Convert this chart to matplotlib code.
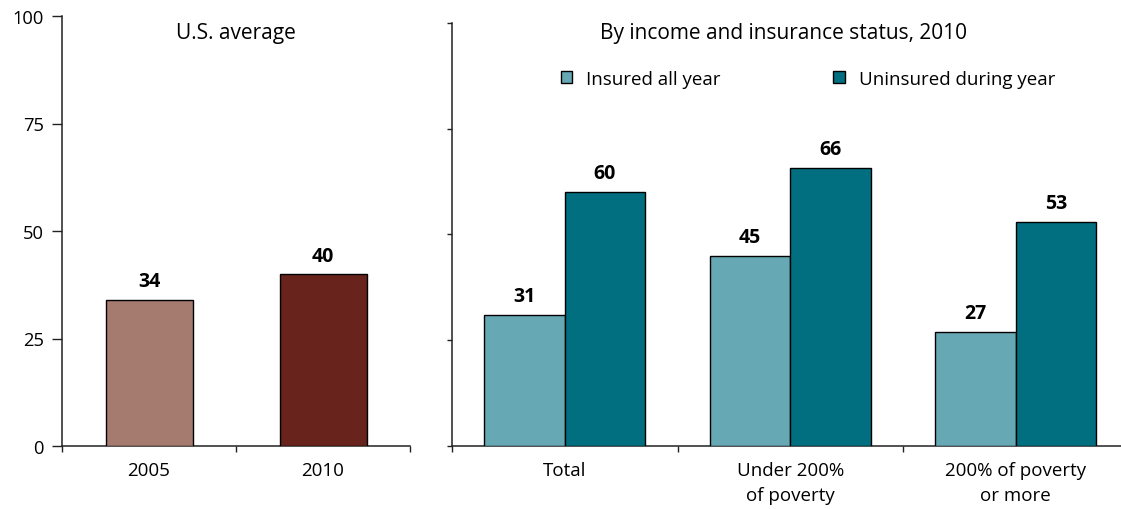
import matplotlib
matplotlib.use("Agg")
import matplotlib.pyplot as plt
from matplotlib.patches import Patch
import numpy as np

plt.rcParams['font.family'] = ['Open Sans', 'DejaVu Sans']

# ---- data ----
years = ["2005", "2010"]
us_avg = [34.0, 39.9]
us_labels = ["34", "40"]

groups = ["Total", "Under 200%\nof poverty", "200% of poverty\nor more"]
insured = [31.0, 44.9, 27.0]
uninsured = [60.1, 65.8, 53.0]
insured_labels = ["31", "45", "27"]
uninsured_labels = ["60", "66", "53"]
series_names = ["Insured all year", "Uninsured during year"]

yticks = [0, 25, 50, 75, 100]

# ---- style ----
W, H = 1121, 510
FS_T = 15
FS_TICK = 13.5
FS_Y = 13.2
FS_VAL = 14
FS_LEG = 13.5
c_2005, c_2010 = "#A67B6F", "#67231C"
c_ins, c_unins = "#67A8B5", "#016F80"
spine_c = "#222222"

fig = plt.figure(figsize=(W / 100, H / 100), dpi=100)

def fx(px):
    return px / W

def fy(py):
    return 1 - py / H

# left panel
axL = fig.add_axes([fx(62), fy(447), fx(410 - 62), (447 - 17) / H])
xL = np.arange(len(years))
axL.bar(xL, us_avg, width=0.5, color=[c_2005, c_2010], edgecolor="black", linewidth=1.0, zorder=3)
for xi, v, lab in zip(xL, us_avg, us_labels):
    axL.annotate(lab, (xi, v), xytext=(0, 10), textcoords="offset points",
                 ha="center", va="baseline", fontsize=FS_VAL, fontweight="bold")
axL.set_xlim(-0.5, len(years) - 0.5)
axL.set_ylim(0, 100)
axL.set_yticks(yticks)
axL.set_yticklabels([str(t) for t in yticks], fontsize=FS_Y)
axL.tick_params(axis="y", length=7, width=1, color=spine_c, pad=6)
axL.set_xticks(xL)
axL.set_xticklabels(years, fontsize=FS_TICK)
axL.set_xticks(np.arange(-0.5, len(years)), minor=True)
axL.tick_params(axis="x", which="major", length=0, pad=10.5)
axL.tick_params(axis="x", which="minor", length=4.5, width=1, color=spine_c)
axL.text(0.5, (447 - 33) / 430, "U.S. average", transform=axL.transAxes,
         ha="center", va="center", fontsize=FS_T)

# right panel
cat_w = 225.5
axR = fig.add_axes([fx(452), fy(447), fx(cat_w * 3), (447 - 24) / H])
xR = np.arange(len(groups))
bw = 0.357
axR.bar(xR - bw / 2, insured, width=bw, color=c_ins, edgecolor="black", linewidth=1.0, zorder=3)
axR.bar(xR + bw / 2, uninsured, width=bw, color=c_unins, edgecolor="black", linewidth=1.0, zorder=3)
for xi, v, lab in zip(xR - bw / 2, insured, insured_labels):
    axR.annotate(lab, (xi, v), xytext=(0, 10), textcoords="offset points",
                 ha="center", va="baseline", fontsize=FS_VAL, fontweight="bold")
for xi, v, lab in zip(xR + bw / 2, uninsured, uninsured_labels):
    axR.annotate(lab, (xi, v), xytext=(0, 10), textcoords="offset points",
                 ha="center", va="baseline", fontsize=FS_VAL, fontweight="bold")
axR.set_xlim(-0.5, len(groups) - 0.5)
axR.set_ylim(0, 100)
axR.set_yticks(yticks)
axR.set_yticklabels([])
axR.tick_params(axis="y", length=3.5, width=1, color=spine_c)
axR.set_xticks(xR)
axR.set_xticklabels(groups, fontsize=FS_TICK, linespacing=1.5)
axR.set_xticks(np.arange(-0.5, len(groups)), minor=True)
axR.tick_params(axis="x", which="major", length=0, pad=10.5)
axR.tick_params(axis="x", which="minor", length=4.5, width=1, color=spine_c)

fig.text(fx(783), fy(33), "By income and insurance status, 2010", ha="center", va="center", fontsize=FS_T)

handles = [Patch(facecolor=c_ins, edgecolor="black", linewidth=1.0),
           Patch(facecolor=c_unins, edgecolor="black", linewidth=1.0)]
fig.legend(handles, series_names, loc="center left", bbox_to_anchor=(fx(561), fy(80)),
           bbox_transform=fig.transFigure, ncol=2, frameon=False, fontsize=FS_LEG,
           handlelength=0.6, handleheight=0.6, handletextpad=0.75,
           columnspacing=6.0, borderpad=0, borderaxespad=0)

for ax in (axL, axR):
    for s in ("top", "right"):
        ax.spines[s].set_visible(False)
    for s in ("left", "bottom"):
        ax.spines[s].set_color(spine_c)
        ax.spines[s].set_linewidth(1.1)

fig.savefig("out.png", dpi=100)
